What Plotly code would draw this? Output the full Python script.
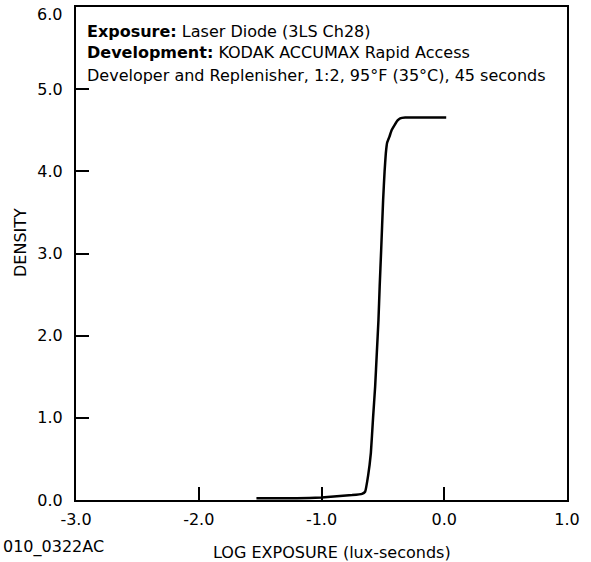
import plotly.graph_objects as go

# Characteristic curve
log_exposure = [-1.53, -1.30, -1.10, -1.00, -0.85, -0.75, -0.67, -0.645, -0.620, -0.598,
                -0.580, -0.563, -0.549, -0.536, -0.526, -0.514, -0.498, -0.486, -0.476,
                -0.465, -0.447, -0.429, -0.406, -0.380, -0.359, -0.318, 0.016]
density = [0.02, 0.02, 0.025, 0.03, 0.05, 0.06, 0.075, 0.10, 0.30, 0.57,
           1.00, 1.38, 1.80, 2.19, 2.60, 3.04, 3.65, 4.00, 4.22,
           4.35, 4.42, 4.50, 4.56, 4.62, 4.645, 4.655, 4.655]

x_ticks = [-3.0, -2.0, -1.0, 0.0, 1.0]
x_tick_labels = ["-3.0", "-2.0", "-1.0", "0.0", "1.0"]
y_ticks = [0, 1, 2, 3, 4, 5, 6]
y_tick_labels = ["0.0", "1.0", "2.0", "3.0", "4.0", "5.0", "6.0"]

info_lines = [
    "<b>Exposure:</b> Laser Diode (3LS Ch28)",
    "<b>Development:</b> KODAK ACCUMAX Rapid Access",
    "Developer and Replenisher, 1:2, 95°F (35°C), 45 seconds",
]
x_title = "LOG EXPOSURE (lux-seconds)"
y_title = "DENSITY"
figure_code = "010_0322AC"

FONT = "DejaVu Sans"
W, H = 591, 562
ML, MR, MT, MB = 76, 24, 7, 62
PW = W - ML - MR
PH = H - MT - MB

def px(xp):
    return (xp - ML) / PW

def py(yp):
    return (H - MB - yp) / PH

fig = go.Figure()
fig.add_trace(go.Scatter(
    x=log_exposure, y=density, mode="lines",
    line=dict(color="black", width=2.5, shape="spline", smoothing=0.3),
    hoverinfo="skip", showlegend=False,
))

axis_common = dict(
    showgrid=False, zeroline=False, showline=True, linecolor="black", linewidth=2,
    mirror=True, ticks="inside", ticklen=13, tickwidth=2, tickcolor="black",
    tickfont=dict(family=FONT, size=16, color="black"),
    ticklabeloverflow="allow", automargin=False,
)
# top y label is drawn slightly lowered (as in the reference) via an annotation
y_tick_text = y_tick_labels[:-1] + [""]
fig.update_xaxes(range=[-3, 1], tickvals=x_ticks, ticktext=x_tick_labels,
                 ticklabelstandoff=4, **axis_common)
fig.update_yaxes(range=[0, 6], tickvals=y_ticks, ticktext=y_tick_text,
                 ticklabelstandoff=8, **axis_common)

annotations = []
line_y = [32, 53, 75]
for txt, yp in zip(info_lines, line_y):
    annotations.append(dict(text=txt, xref="paper", yref="paper", x=px(85), y=py(yp),
                            xanchor="left", yanchor="middle", showarrow=False,
                            font=dict(family=FONT, size=16, color="black")))
annotations.append(dict(text=y_tick_labels[-1], xref="paper", yref="paper", x=px(64), y=py(14),
                        xanchor="right", yanchor="middle", showarrow=False,
                        font=dict(family=FONT, size=16, color="black")))
annotations.append(dict(text=x_title, xref="paper", yref="paper", x=px(332), y=py(552),
                        xanchor="center", yanchor="middle", showarrow=False,
                        font=dict(family=FONT, size=16, color="black")))
annotations.append(dict(text=y_title, xref="paper", yref="paper", x=px(20), y=py(243),
                        xanchor="center", yanchor="middle", textangle=-90, showarrow=False,
                        font=dict(family=FONT, size=16, color="black")))
annotations.append(dict(text=figure_code, xref="paper", yref="paper", x=px(106), y=py(547),
                        xanchor="right", yanchor="middle", showarrow=False,
                        font=dict(family=FONT, size=16, color="black")))

fig.update_layout(
    width=W, height=H, margin=dict(l=ML, r=MR, t=MT, b=MB, autoexpand=False),
    paper_bgcolor="white", plot_bgcolor="white",
    annotations=annotations,
)
fig.write_html("out.html", config={"displayModeBar": False},
               post_script="document.body.style.margin='0';document.body.style.overflow='hidden';")
